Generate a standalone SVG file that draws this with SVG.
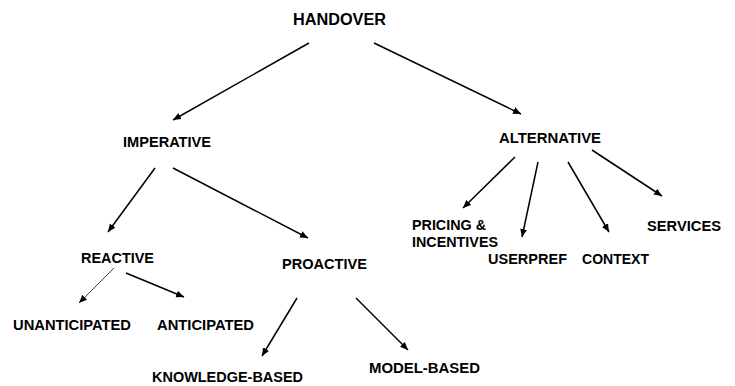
<svg xmlns="http://www.w3.org/2000/svg" width="735" height="386" viewBox="0 0 735 386">
<style>
text{font-family:"Liberation Sans",Arial,sans-serif;font-weight:bold;font-size:14.5px;fill:#000}
.e{stroke:#000;stroke-width:1.5;fill:none;marker-end:url(#ah)}
.thin{stroke:#444;stroke-width:1}
</style>
<defs>
<marker id="ah" markerUnits="userSpaceOnUse" markerWidth="9" markerHeight="8" refX="8" refY="4" orient="auto">
<path d="M0,0.5 L8,4 L0,7.5 z" fill="#000"/>
</marker>
</defs>
<rect width="735" height="386" fill="#fff"/>
<g id="connectors">
<line class="e" x1="309" y1="43" x2="173" y2="120"/>
<line class="e" x1="374" y1="43" x2="521" y2="114"/>
<line class="e" x1="155" y1="168" x2="108" y2="232"/>
<line class="e" x1="173" y1="168" x2="308" y2="238"/>
<line class="e thin" x1="114" y1="268" x2="79" y2="303"/>
<line class="e" x1="126" y1="273" x2="184" y2="297"/>
<line class="e" x1="297" y1="298" x2="262" y2="356"/>
<line class="e" x1="356" y1="298" x2="408" y2="350"/>
<line class="e" x1="515" y1="157" x2="463" y2="208"/>
<line class="e" x1="538" y1="162" x2="522" y2="237"/>
<line class="e" x1="568" y1="162" x2="609" y2="232"/>
<line class="e" x1="592" y1="150" x2="662" y2="196"/>
</g>
<g id="handover"><text x="293" y="25" style="font-size:16px" textLength="93" lengthAdjust="spacingAndGlyphs">HANDOVER</text></g>
<g id="imperative"><text x="123" y="147" textLength="88" lengthAdjust="spacingAndGlyphs">IMPERATIVE</text></g>
<g id="alternative"><text x="499" y="143" textLength="102" lengthAdjust="spacingAndGlyphs">ALTERNATIVE</text></g>
<g id="reactive"><text x="81" y="263" textLength="73" lengthAdjust="spacingAndGlyphs">REACTIVE</text></g>
<g id="proactive"><text x="282" y="269" textLength="85" lengthAdjust="spacingAndGlyphs">PROACTIVE</text></g>
<g id="unanticipated"><text x="13" y="330" textLength="118" lengthAdjust="spacingAndGlyphs">UNANTICIPATED</text></g>
<g id="anticipated"><text x="157" y="330" textLength="97" lengthAdjust="spacingAndGlyphs">ANTICIPATED</text></g>
<g id="knowledge-based"><text x="152" y="382" textLength="151" lengthAdjust="spacingAndGlyphs">KNOWLEDGE-BASED</text></g>
<g id="model-based"><text x="369" y="373" textLength="111" lengthAdjust="spacingAndGlyphs">MODEL-BASED</text></g>
<g id="pricing"><text x="412" y="230" textLength="74" lengthAdjust="spacingAndGlyphs">PRICING &amp;</text><text x="412" y="247" textLength="86" lengthAdjust="spacingAndGlyphs">INCENTIVES</text></g>
<g id="userpref"><text x="488" y="264" textLength="79" lengthAdjust="spacingAndGlyphs">USERPREF</text></g>
<g id="context"><text x="582" y="264" textLength="67" lengthAdjust="spacingAndGlyphs">CONTEXT</text></g>
<g id="services"><text x="647" y="231" textLength="74" lengthAdjust="spacingAndGlyphs">SERVICES</text></g>
</svg>
